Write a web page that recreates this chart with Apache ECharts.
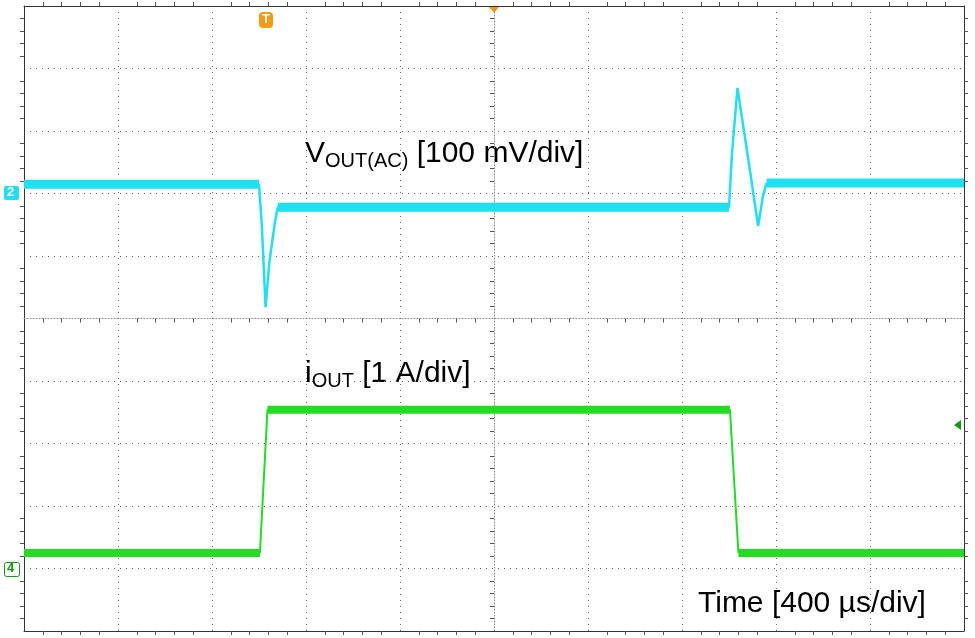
<!DOCTYPE html>
<html style="height: 100%">
<head>
  <meta charset="utf-8">
  <script src="https://cdn.jsdelivr.net/npm/echarts@6/dist/echarts.min.js"></script>
</head>
<body style="height: 100%; margin: 0; background: #fff">
  <div id="main" style="width: 975px; height: 638px"></div>
  <script type="text/javascript">
    // screen coordinates in divisions, centre of screen = 0,0
    var voutFlat = [[-5, 2.15], [-2.5, 2.15], null, [-2.3, 1.78], [2.5, 1.78], null, [2.9, 2.17], [5, 2.17]];
    var voutEdge = [[-2.5, 2.15], [-2.47, 1.5], [-2.43, 0.18], [-2.39, 0.9], [-2.33, 1.55], [-2.3, 1.78],
                    [2.5, 1.78], [2.53, 2.6], [2.59, 3.69], [2.7, 2.6], [2.81, 1.48], [2.86, 1.95], [2.9, 2.17]];
    var ioutFlat = [[-5, -3.75], [-2.49, -3.75], null, [-2.41, -1.46], [2.51, -1.46], null, [2.6, -3.75], [5, -3.75]];
    var ioutEdge = [[-2.49, -3.75], [-2.41, -1.46], [2.51, -1.46], [2.6, -3.75]];
    var divTicks = [-5, 5, 1];

    var cyan = '#1ee0f0', green = '#22dd22';
    var dotted = { show: true, lineStyle: { color: '#666', type: [1, 5], width: 1 } };
    var minor = { show: true, splitNumber: 5, length: 4, lineStyle: { color: '#555' } };
    function xa(pos, onZero) {
      return { type: 'value', min: divTicks[0], max: divTicks[1], interval: divTicks[2], position: pos,
        axisLine: { show: true, onZero: onZero, lineStyle: { color: onZero ? '#888' : '#333', type: onZero ? [1, 2] : 'solid' } },
        axisTick: { show: false }, minorTick: minor, axisLabel: { show: false }, splitLine: onZero ? dotted : { show: false } };
    }
    var big = { fontSize: 30, fontFamily: 'Liberation Sans' };
    var sub = { fontSize: 20, fontFamily: 'Liberation Sans', padding: [15, 0, 0, 0] };
    var option = {
      animation: false,
      grid: { left: 24, right: 11, top: 6, bottom: 7 },
      xAxis: [xa('bottom', true), xa('bottom', false), xa('top', false)],
      yAxis: [xa('left', true), xa('left', false), xa('right', false)],
      series: [
        { type: 'line', data: voutFlat, symbol: 'none', lineStyle: { color: cyan, width: 9 } },
        { type: 'line', data: voutEdge, symbol: 'none', lineStyle: { color: cyan, width: 2.5 } },
        { type: 'line', data: ioutFlat, symbol: 'none', lineStyle: { color: green, width: 8 } },
        { type: 'line', data: ioutEdge, symbol: 'none', lineStyle: { color: green, width: 2 } }
      ],
      graphic: [
        { type: 'text', left: 305, top: 139, style: { fill: '#000', rich: { b: big, s: sub },
          text: '{b|V}{s|OUT(AC)}{b| [100 mV/div]}' } },
        { type: 'text', left: 305, top: 359, style: { fill: '#000', rich: { b: big, s: sub },
          text: '{b|i}{s|OUT}{b| [1 A/div]}' } },
        { type: 'text', left: 698, top: 589, style: { text: 'Time [400 µs/div]', fill: '#000', fontSize: 30, fontFamily: 'Liberation Sans' } },
        { type: 'rect', left: 4, top: 186, shape: { width: 15, height: 14, r: 2 }, style: { fill: cyan } },
        { type: 'text', left: 7, top: 186, style: { text: '2', fill: '#fff', fontSize: 13, fontWeight: 'bold' } },
        { type: 'rect', left: 4, top: 562, shape: { width: 15, height: 14, r: 2 }, style: { fill: '#fff', stroke: '#119911' } },
        { type: 'text', left: 7, top: 562, style: { text: '4', fill: '#119911', fontSize: 13, fontWeight: 'bold' } },
        { type: 'rect', left: 259, top: 12, shape: { width: 14, height: 16, r: 4 }, style: { fill: '#f39c12' } },
        { type: 'text', left: 262, top: 13, style: { text: 'T', fill: '#fff', fontSize: 13, fontWeight: 'bold' } },
        { type: 'polygon', shape: { points: [[488, 6], [500, 6], [494, 13]] }, style: { fill: '#f39c12' } },
        { type: 'polygon', shape: { points: [[954, 425], [961, 420], [961, 430]] }, style: { fill: '#119911' } }
      ]
    };
    var chart = echarts.init(document.getElementById('main'));
    chart.setOption(option);
  </script>
</body>
</html>
